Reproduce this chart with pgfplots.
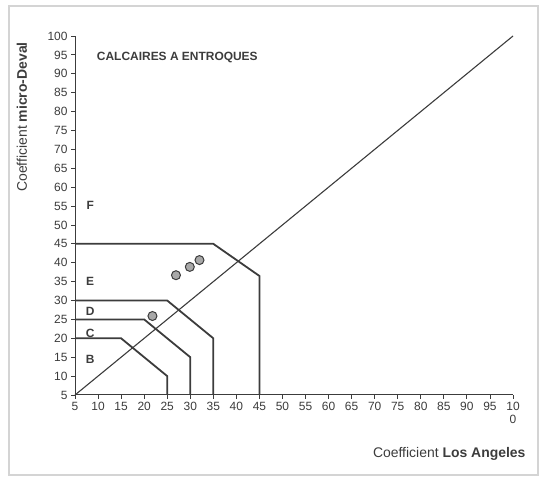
\documentclass[border=0pt]{standalone}
\usepackage{pgfplots}
\pgfplotsset{compat=1.18}
\usepackage{fontspec}
\setmainfont{Liberation Sans}
\definecolor{ink}{HTML}{3C3C3C}
\definecolor{frame}{HTML}{D4D4D4}
\definecolor{dot}{HTML}{A8A8A8}

\begin{document}
\begin{tikzpicture}[x=1bp,y=1bp]
\useasboundingbox (0,0) rectangle (543,478);
\draw[frame,line width=1.2bp] (9,3) rectangle (538,472);
\begin{axis}[
    at={(75bp,83bp)}, anchor=origin,
    scale only axis, width=438bp, height=359bp,
    xmin=5, xmax=100, ymin=5, ymax=100,
    axis lines*=left, axis line style={-, ink, line width=1bp},
    xtick={5,10,...,100}, ytick={5,10,...,100},
    xticklabels={5,10,15,20,25,30,35,40,45,50,55,60,65,70,75,80,85,90,95,{10\\0}},
    /pgf/number format/assume math mode=true,
    tick align=outside, major tick length=4bp,
    tick style={ink, line width=0.8bp},
    tick label style={font=\fontsize{12}{13}\selectfont, text=ink},
    x tick label style={align=center},
    clip=false,
]
% class boundaries
\addplot[ink, line width=1.8bp] coordinates {(5,20) (15,20) (25,10) (25,5)};
\addplot[ink, line width=1.8bp] coordinates {(5,25) (20,25) (30,15) (30,5)};
\addplot[ink, line width=1.8bp] coordinates {(5,30) (25,30) (35,20) (35,5)};
\addplot[ink, line width=1.8bp] coordinates {(5,45) (35,45) (45,36.5) (45,5)};
% diagonal
\addplot[ink, line width=1.1bp] coordinates {(5,5) (100,100)};
% samples
\addplot[only marks, mark=*, mark size=4.5bp,
    mark options={fill=dot, draw=ink, line width=1bp}]
    coordinates {(21.8,25.9) (26.9,36.7) (29.9,38.9) (32,40.7)};
\node[font=\bfseries\fontsize{12}{14}\selectfont, text=ink, anchor=west] at (axis cs:9,94.4) {CALCAIRES A ENTROQUES};
\node[font=\bfseries\fontsize{12}{14}\selectfont, text=ink] at (axis cs:8.3,55.3) {F};
\node[font=\bfseries\fontsize{12}{14}\selectfont, text=ink] at (axis cs:8.3,35) {E};
\node[font=\bfseries\fontsize{12}{14}\selectfont, text=ink] at (axis cs:8.3,27) {D};
\node[font=\bfseries\fontsize{12}{14}\selectfont, text=ink] at (axis cs:8.3,21.4) {C};
\node[font=\bfseries\fontsize{12}{14}\selectfont, text=ink] at (axis cs:8.3,14.5) {B};
\end{axis}
\node[rotate=90, font=\fontsize{14}{16}\selectfont, text=ink] at (22,361) {Coefficient \textbf{micro-Deval}};
\node[anchor=east, font=\fontsize{14}{16}\selectfont, text=ink] at (529,24) {Coefficient \textbf{Los Angeles}};
\end{tikzpicture}
\end{document}
